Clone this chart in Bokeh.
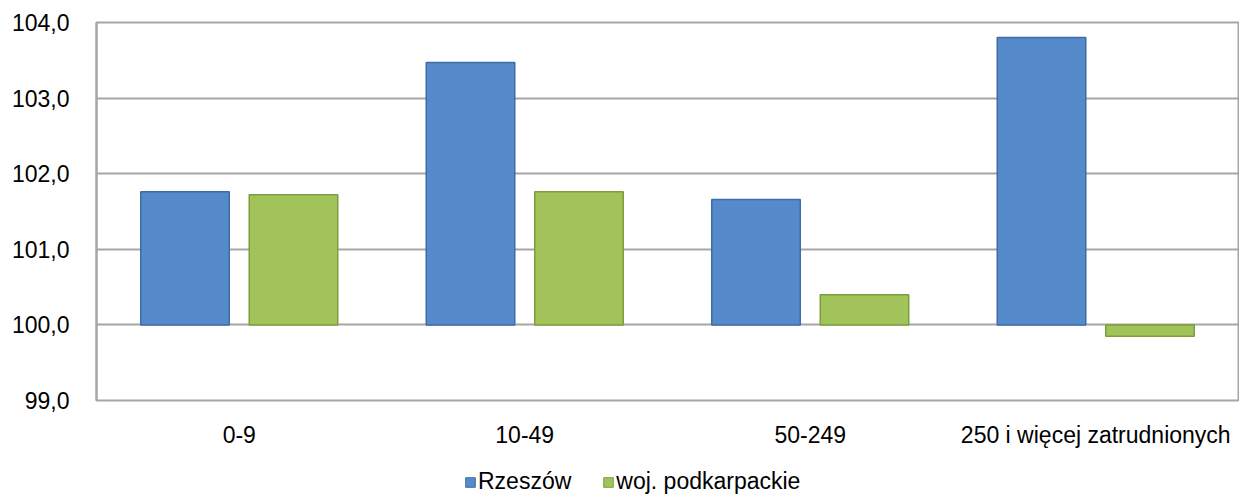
from bokeh.plotting import figure
from bokeh.models import FactorRange, FixedTicker, Legend, LegendItem, ColumnDataSource
from bokeh.transform import dodge
from bokeh.layouts import column
from bokeh.embed import file_html
from bokeh.resources import INLINE

categories = ["0-9", "10-49", "50-249", "250 i więcej zatrudnionych"]
rzeszow = [101.76, 103.47, 101.66, 103.80]
podkarpackie = [101.72, 101.76, 100.40, 99.85]
series_names = ["Rzeszów", "woj. podkarpackie"]
y_ticks = [99, 100, 101, 102, 103, 104]
y_tick_labels = ["99,0", "100,0", "101,0", "102,0", "103,0", "104,0"]
base = 100

FONT = "Liberation Sans"
FS = "23px"
BLUE, BLUE_EDGE = "#558ACB", "#3E6DA6"
GREEN, GREEN_EDGE = "#A1C35A", "#7E9E3E"

src = ColumnDataSource(dict(cat=categories, r=rzeszow, g=podkarpackie, b=[base] * len(categories)))

p = figure(x_range=FactorRange(*categories), y_range=(99, 104),
           width=1239, height=450, output_backend="svg", toolbar_location=None,
           min_border_left=96, min_border_right=1, min_border_top=22, min_border_bottom=45)
p.x_range.range_padding = 0

p.outline_line_color = "#A6A6A6"
p.outline_line_width = 2
p.background_fill_color = "white"
p.border_fill_color = "white"

p.xgrid.visible = False
p.ygrid.grid_line_color = "#A6A6A6"
p.ygrid.grid_line_width = 2
p.ygrid.ticker = FixedTicker(ticks=y_ticks)

p.yaxis.ticker = FixedTicker(ticks=y_ticks)
p.yaxis.major_label_overrides = {t: l for t, l in zip(y_ticks, y_tick_labels)}
p.yaxis.axis_line_color = "#A6A6A6"
p.yaxis.axis_line_width = 2
p.yaxis.major_tick_line_color = None
p.yaxis.minor_tick_line_color = None
p.yaxis.major_label_standoff = 21
p.yaxis.major_label_text_font = FONT
p.yaxis.major_label_text_font_size = FS
p.yaxis.major_label_text_color = "#000000"

p.xaxis.axis_line_color = None
p.xaxis.major_tick_line_color = None
p.xaxis.minor_tick_line_color = None
p.xaxis.major_label_standoff = 15
p.xaxis.major_label_text_font = FONT
p.xaxis.major_label_text_font_size = FS
p.xaxis.major_label_text_color = "#000000"

p.vbar(x=dodge("cat", -0.19, range=p.x_range), bottom="b", top="r", width=0.31, source=src,
       fill_color=BLUE, line_color=BLUE_EDGE, line_width=1.5)
p.vbar(x=dodge("cat", 0.19, range=p.x_range), bottom="b", top="g", width=0.31, source=src,
       fill_color=GREEN, line_color=GREEN_EDGE, line_width=1.5)

# legend strip (same series, hidden renderers so that only the legend shows)
lg = figure(width=1239, height=48, x_range=FactorRange(*categories), y_range=(0, 1),
            output_backend="svg", toolbar_location=None,
            min_border=0, x_axis_type=None, y_axis_type=None)
lg.grid.visible = False
lg.outline_line_color = None
lg.border_fill_color = "white"
lg.background_fill_color = "white"
d1 = lg.vbar(x=dodge("cat", -0.19, range=lg.x_range), bottom="b", top="r", width=0.31, source=src,
             fill_color=BLUE, line_color=BLUE_EDGE)
d2 = lg.vbar(x=dodge("cat", 0.19, range=lg.x_range), bottom="b", top="g", width=0.31, source=src,
             fill_color=GREEN, line_color=GREEN_EDGE)
d1.visible = False
d2.visible = False
legend = Legend(items=[LegendItem(label=series_names[0], renderers=[d1]),
                       LegendItem(label=series_names[1], renderers=[d2])],
                orientation="horizontal", location=(368, 3), click_policy="none",
                label_text_font=FONT, label_text_font_size=FS, label_text_color="#000000",
                glyph_width=12, glyph_height=12, label_standoff=2, spacing=31,
                background_fill_alpha=0, border_line_color=None, padding=0, margin=0)
lg.add_layout(legend, "center")

open("out.html", "w").write(file_html(column(p, lg, spacing=0), INLINE))
